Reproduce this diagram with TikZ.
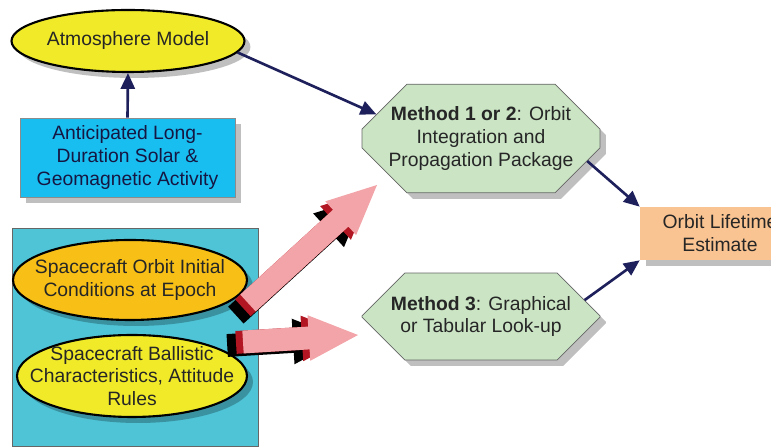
\documentclass[tikz,border=0pt]{standalone}
\usepackage{fontspec}
\setmainfont{Liberation Sans}
\usetikzlibrary{shapes.geometric,shapes.misc,shadows,arrows.meta,calc}

\definecolor{atmyellow}{RGB}{240,234,40}
\definecolor{solarblue}{RGB}{25,190,240}
\definecolor{inputteal}{RGB}{78,196,214}
\definecolor{epochorange}{RGB}{248,192,22}
\definecolor{methodgreen}{RGB}{202,228,196}
\definecolor{lifeorange}{RGB}{250,196,146}
\definecolor{linknavy}{RGB}{30,32,92}
\definecolor{fatpink}{RGB}{242,164,168}
\definecolor{fatred}{RGB}{178,22,34}

\tikzset{
  txt/.style={font=\fontsize{11}{13}\selectfont, align=center, text=black!85},
  shade box/.style={drop shadow={shadow xshift=0.12cm, shadow yshift=-0.12cm, fill=black, opacity=0.25}},
  ellip/.style={txt, ellipse, draw=black, line width=1.2pt, inner xsep=-0.45cm, inner ysep=-0.3cm, shade box},
  method/.style={txt, chamfered rectangle, chamfered rectangle sep=0.45cm, draw=black!60,
    fill=methodgreen, minimum width=4.76cm, minimum height=1.74cm, inner sep=0pt, shade box},
  link/.style={draw=linknavy, line width=1.5pt, -{Triangle[length=9pt,width=8pt]}},
}

% fat 3D arrow body: tail, tip, colour
\newcommand{\fatbody}[3]{%
  \path ($(#2)!28pt!(#1)$) coordinate (fat-c);
  \fill[#3] ($(#1)!6.5pt!90:(#2)$) -- ($(fat-c)!6.5pt!90:(#2)$) -- ($(fat-c)!13pt!90:(#2)$) -- (#2)
    -- ($(fat-c)!13pt!-90:(#2)$) -- ($(fat-c)!6.5pt!-90:(#2)$) -- ($(#1)!6.5pt!-90:(#2)$) -- cycle;
}
\newcommand{\fatarrow}[2]{%
  \path ($(#1)!-8pt!(#2)$) coordinate (fat-kt) ($(#2)!8pt!(#1)$) coordinate (fat-kh);
  \path ([xshift=-1pt,yshift=-1.5pt]fat-kt) coordinate (fat-kt) ([xshift=-1pt,yshift=-1.5pt]fat-kh) coordinate (fat-kh);
  \path ($(#1)!-4pt!(#2)$) coordinate (fat-rt) ($(#2)!4pt!(#1)$) coordinate (fat-rh);
  \fatbody{fat-kt}{fat-kh}{black}
  \fatbody{fat-rt}{fat-rh}{fatred}
  \fatbody{#1}{#2}{fatpink}
}

\begin{document}
\begin{tikzpicture}[x=0.02cm, y=-0.02cm]
\useasboundingbox (0,0) rectangle (771,448);
\clip (0,0) rectangle (771,448);

% inputs
\filldraw[fill=inputteal, draw=black!60] (12,228) rectangle (258,446);
\node[ellip, fill=atmyellow, minimum width=4.66cm, minimum height=1.24cm] (atm) at (128,41) {Atmosphere Model};
\node[txt, rectangle, fill=solarblue, draw=black!45, minimum width=4.3cm, minimum height=1.58cm,
  shade box, text=linknavy!70!black] (solar) at (127.5,157.5) {Anticipated Long-\\Duration Solar \&\\Geomagnetic Activity};
\node[ellip, fill=epochorange, minimum width=4.68cm, minimum height=1.6cm] (epoch) at (130,280) {Spacecraft Orbit Initial\\Conditions at Epoch};
\node[ellip, fill=atmyellow, minimum width=4.6cm, minimum height=1.64cm] (ballistic) at (132,376) {Spacecraft Ballistic\\Characteristics, Attitude\\Rules};

% methods and result
\node[method] (m12) at (481,138.5) {\textbf{Method 1 or 2}: Orbit\\Integration and\\Propagation Package};
\node[method] (m3) at (481,316.5) {\textbf{Method 3}: Graphical\\or Tabular Look-up};
\node[txt, fill=lifeorange, minimum width=3.2cm, minimum height=1.06cm, shade box] (life) at (720,233.5) {Orbit Lifetime\\Estimate};

% links
\draw[link] (solar.north) -- (atm.south);
\draw[link] (atm.-6) -- (m12.167);
\draw[link] (m12.-12) -- (life.north west);
\draw[link] (m3.9) -- (life.south west);

% fat arrows from the inputs
\coordinate (epoch-out) at (248,303);
\coordinate (m12-in) at (377,185);
\coordinate (ballistic-out) at (243,342);
\coordinate (m3-in) at (358,335);
\fatarrow{epoch-out}{m12-in}
\fatarrow{ballistic-out}{m3-in}
\end{tikzpicture}
\end{document}
